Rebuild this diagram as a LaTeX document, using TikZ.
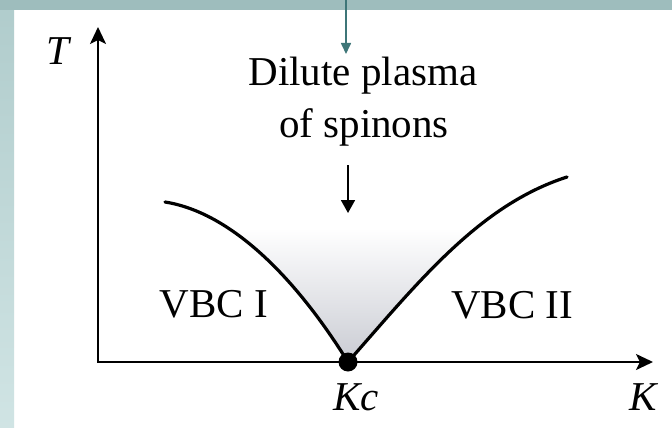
\documentclass[tikz,border=0pt]{standalone}
\usepackage{fontspec}
\setmainfont{Liberation Serif}
\usetikzlibrary{arrows.meta}
\definecolor{bandtop}{RGB}{158,189,189}
\definecolor{bandleft}{RGB}{176,204,204}
\definecolor{bandleftb}{RGB}{208,228,228}
\definecolor{teal1}{RGB}{62,118,120}
\definecolor{vgrey}{RGB}{200,202,210}
\begin{document}
\begin{tikzpicture}[x=1pt,y=-1pt,
  lbl/.style={font=\fontsize{41}{48}\selectfont, inner sep=0pt, anchor=base},
  axisline/.style={line width=2.2pt, >={Stealth[length=17pt,width=16pt,inset=4pt]}},
  curve/.style={line width=3.2pt, line cap=round}]
\useasboundingbox (0,0) rectangle (672,428);
\fill[white] (0,0) rectangle (672,428);
\shade[top color=bandleft, bottom color=bandleftb] (0,0) rectangle (14,428);
\fill[bandtop] (0,0) rectangle (672,10);
% axes
\coordinate (O) at (98,362);
\coordinate (Ttip) at (98,27);
\coordinate (Ktip) at (653,362);
\coordinate (L0) at (165,202);
\coordinate (C) at (348,362);
\coordinate (R0) at (567,177);
% shaded region
\begin{scope}
\clip (L0) .. controls (228,212) and (292,272) .. (C)
  .. controls (420,280) and (480,205) .. (R0) -- cycle;
\shade[top color=white, bottom color=vgrey] (160,228) rectangle (580,366);
\end{scope}
\draw[axisline, <->] (Ttip) -- (O) -- (Ktip);
% curves
\draw[curve] (L0) .. controls (228,212) and (292,272) .. (C);
\draw[curve] (C) .. controls (420,280) and (480,205) .. (R0);
\node[circle, fill=black, minimum size=19pt, inner sep=0pt] (Kcdot) at (C) {};
% labels
\node[lbl] (dil) at (363,85) {Dilute plasma};
\node[lbl] (spin) at (364,137) {of spinons};
\node[lbl] (v1) at (214,317) {VBC I};
\node[lbl] (v2) at (512,318) {VBC II};
\node[lbl] (T) at (58,65) {\itshape T};
\node[lbl] (K) at (643,410) {\itshape K};
\node[lbl] (Kc) at (356,410) {\itshape Kc};
% arrows
\coordinate (a1s) at (348,165);
\coordinate (a1e) at (348,213);
\draw[line width=1.8pt, -{Triangle[length=13pt,width=14pt]}] (a1s) -- (a1e);
\coordinate (tops) at (346,0);
\coordinate (tope) at (346,54);
\draw[teal1, line width=1.6pt, -{Triangle[length=11pt,width=10pt]}] (tops) -- (tope);
\end{tikzpicture}
\end{document}
